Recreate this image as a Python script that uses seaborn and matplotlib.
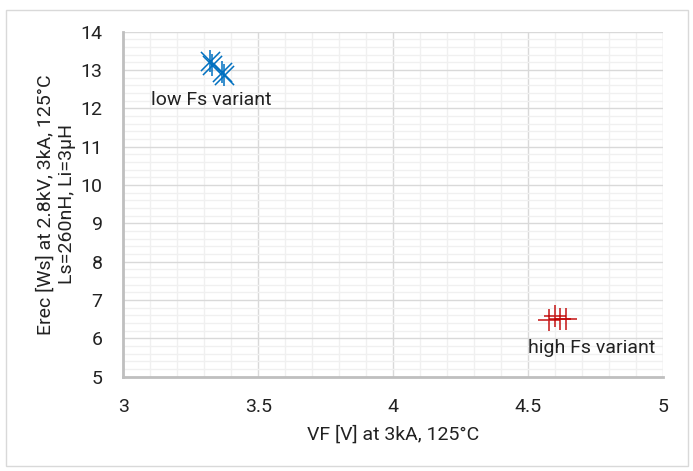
import matplotlib
matplotlib.use("Agg")
import matplotlib.pyplot as plt
from matplotlib.patches import Rectangle
from matplotlib.ticker import MultipleLocator
import seaborn as sns
import pandas as pd

# Measured forward voltage and reverse-recovery energy of the two diode variants
low_vf = [3.321, 3.327, 3.364, 3.374]
low_erec = [13.24, 13.13, 12.94, 12.87]
high_vf = [4.577, 4.599, 4.618, 4.640]
high_erec = [6.48, 6.58, 6.50, 6.50]

x_ticks = [3, 3.5, 4, 4.5, 5]
y_ticks = [5, 6, 7, 8, 9, 10, 11, 12, 13, 14]

low_df = pd.DataFrame({"VF": low_vf, "Erec": low_erec})
high_df = pd.DataFrame({"VF": high_vf, "Erec": high_erec})

sns.set_theme(style="white")
plt.rcParams["font.family"] = ["Roboto", "DejaVu Sans"]

fig = plt.figure(figsize=(6.93, 4.71), dpi=100)
ax = fig.add_axes([0.178, 0.2, 0.779, 0.7327])

blue = "#0070C0"
red = "#C00000"
text_color = "#222222"
fs = 14

# star markers: diagonal cross plus vertical bar
sns.scatterplot(data=low_df, x="VF", y="Erec", marker="x", s=190, color=blue,
                linewidth=1.1, ax=ax, zorder=3)
sns.scatterplot(data=low_df, x="VF", y="Erec", marker="|", s=260, color=blue,
                linewidth=1.1, ax=ax, zorder=3)
sns.scatterplot(data=high_df, x="VF", y="Erec", marker="+", s=240, color=red,
                linewidth=1.2, alpha=0.85, ax=ax, zorder=3)

ax.text(3.325, 12.22, "low Fs variant", ha="center", va="center",
        fontsize=fs, color=text_color)
ax.text(4.736, 5.75, "high Fs variant", ha="center", va="center",
        fontsize=fs, color=text_color)

ax.set_xlim(3, 5)
ax.set_ylim(5, 14)
ax.set_xticks(x_ticks)
ax.set_xticklabels([f"{t:g}" for t in x_ticks])
ax.set_yticks(y_ticks)
ax.set_yticklabels([str(t) for t in y_ticks])
ax.xaxis.set_minor_locator(MultipleLocator(0.1))
ax.yaxis.set_minor_locator(MultipleLocator(0.2))

ax.grid(which="minor", color="#f0f0f0", linewidth=1.0, zorder=0)
ax.grid(which="major", color="#d9d9d9", linewidth=1.0, zorder=0)
ax.set_axisbelow(True)

ax.tick_params(axis="both", which="both", length=0, labelsize=fs,
               labelcolor=text_color)
ax.tick_params(axis="x", pad=15)
ax.tick_params(axis="y", pad=15)

for side in ["top", "right"]:
    ax.spines[side].set_visible(False)
for side in ["left", "bottom"]:
    ax.spines[side].set_color("#bfbfbf")
    ax.spines[side].set_linewidth(2)

ax.set_xlabel("VF [V] at 3kA, 125°C", fontsize=fs, color=text_color, labelpad=7)
ax.set_ylabel("Erec [Ws] at 2.8kV, 3kA, 125°C\nLs=260nH, Li=3µH", fontsize=fs,
              color=text_color, labelpad=3, linespacing=1.25)

fig.patches.append(Rectangle((6 / 693, 5 / 471), 682 / 693, 456 / 471,
                             transform=fig.transFigure, fill=False,
                             edgecolor="#d9d9d9", linewidth=1))

fig.savefig("out.png", dpi=100)
